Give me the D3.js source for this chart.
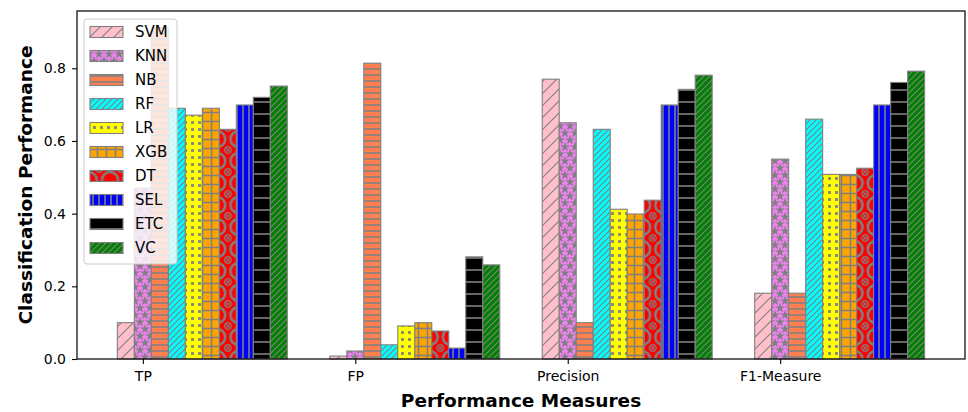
<!DOCTYPE html>
<html>
<head>
<meta charset="utf-8">
<script src="https://cdn.jsdelivr.net/npm/d3@7"></script>
<style>
  html, body { margin: 0; padding: 0; background: #ffffff; }
  svg { display: block; }
  text { font-family: "DejaVu Sans", sans-serif; fill: #000; }
</style>
</head>
<body>
<svg id="chart" width="968" height="412"></svg>
<script>
// Performance measures on the x axis
const measures = ["TP", "FP", "Precision", "F1-Measure"];

// One array per classifier, values in the order of `measures`
const SVM = [0.10, 0.008, 0.770, 0.181];
const KNN = [0.47, 0.022, 0.650, 0.550];
const NB  = [0.912, 0.814, 0.100, 0.181];
const RF  = [0.690, 0.039, 0.632, 0.660];
const LR  = [0.671, 0.091, 0.412, 0.508];
const XGB = [0.690, 0.100, 0.399, 0.508];
const DT  = [0.632, 0.077, 0.437, 0.525];
const SEL = [0.699, 0.030, 0.699, 0.699];
const ETC = [0.720, 0.281, 0.742, 0.761];
const VC  = [0.751, 0.259, 0.781, 0.792];

const modelNames = ["SVM", "KNN", "NB", "RF", "LR", "XGB", "DT", "SEL", "ETC", "VC"];
const modelValues = [SVM, KNN, NB, RF, LR, XGB, DT, SEL, ETC, VC];

const yTicks = [0.0, 0.2, 0.4, 0.6, 0.8];

// ---- layout ----
const svg = d3.select("#chart");
const plot = { left: 77, right: 965, top: 11, bottom: 359 };
const barW = 0.08;            // bar width in category units
const edge = "#808080";       // bar edge / hatch colour

// bar k sits at i + (k-1)*barW  (KNN centred on the tick)
const offsets = modelNames.map((_, k) => (k - 1) * barW);
const xLo = offsets[0] - barW / 2;
const xHi = measures.length - 1 + offsets[offsets.length - 1] + barW / 2;
const xPad = (xHi - xLo) * 0.05;
const x = d3.scaleLinear().domain([xLo - xPad, xHi + xPad]).range([plot.left, plot.right]);

const yMax = d3.max(modelValues.flat()) * 1.05;
const y = d3.scaleLinear().domain([0, yMax]).range([plot.bottom, plot.top]);

// ---- hatch patterns ----
const defs = svg.append("defs");
function pat(id, w, h, bg, draw, tf) {
  const p = defs.append("pattern").attr("id", id)
    .attr("patternUnits", "userSpaceOnUse")
    .attr("width", w).attr("height", h);
  if (tf) p.attr("patternTransform", tf);
  p.append("rect").attr("width", w).attr("height", h).attr("fill", bg);
  draw(p, w, h);
  return p;
}
function diag(p, s) {
  p.append("path")
    .attr("d", `M0,${s} L${s},0 M${-s/2},${s/2} L${s/2},${-s/2} M${s/2},${s*1.5} L${s*1.5},${s/2}`)
    .attr("stroke", edge).attr("stroke-width", 1.1).attr("fill", "none");
}
function hline(p, w, h) {
  p.append("line").attr("x1", 0).attr("x2", w).attr("y1", h / 2).attr("y2", h / 2)
    .attr("stroke", edge).attr("stroke-width", 1.6);
}
function vline(p, w, h) {
  p.append("line").attr("y1", 0).attr("y2", h).attr("x1", w / 2).attr("x2", w / 2)
    .attr("stroke", edge).attr("stroke-width", 1.6);
}
const star = d3.symbol().type(d3.symbolStar).size(30);

const patterns = {
  SVM: pat("h-svm", 12, 12, "#FFC0CB", (p) => diag(p, 12)),
  KNN: pat("h-knn", 10, 14, "#EE82EE", (p, w, h) => {
    [[0, 0], [w, 0], [0, h], [w, h], [w / 2, h / 2]].forEach(([cx, cy]) =>
      p.append("path").attr("d", star).attr("transform", `translate(${cx},${cy})`).attr("fill", edge));
  }),
  NB: pat("h-nb", 6, 6, "#FF7F50", hline),
  RF: pat("h-rf", 6, 6, "#00FFFF", (p) => diag(p, 6)),
  LR: pat("h-lr", 7, 7, "#FFFF00", (p, w, h) => {
    p.append("rect").attr("x", w / 2 - 1.4).attr("y", h / 2 - 1.4).attr("width", 2.8).attr("height", 2.8).attr("fill", edge);
  }),
  XGB: pat("h-xgb", 9, 9, "#FFA500", (p, w, h) => { hline(p, w, h); vline(p, w, h); }),
  DT: null,
  SEL: pat("h-sel", 6, 6, "#0000FF", vline),
  ETC: pat("h-etc", 12, 12, "#000000", hline),
  VC: pat("h-vc", 6, 6, "#008000", (p) => diag(p, 6))
};
// circle hatch for DT, one column of rings per bar slot
{
  const tw = (x(1) - x(0)) / 10, th = 22;
  const cx0 = x(offsets[6]);
  patterns.DT = pat("h-dt", tw, th, "#FF0000", (p, w, h) => {
    [[0, 0], [w, 0], [0, h], [w, h]].forEach(([cx, cy]) =>
      p.append("circle").attr("cx", cx).attr("cy", cy).attr("r", 8)
        .attr("fill", "none").attr("stroke", edge).attr("stroke-width", 2.6));
    p.append("circle").attr("cx", w / 2).attr("cy", h / 2).attr("r", 3.4)
      .attr("fill", "none").attr("stroke", edge).attr("stroke-width", 1.3);
    const d = 2.2;
    p.append("path")
      .attr("d", `M${w/2-d},${h/2-d}L${w/2+d},${h/2+d}M${w/2-d},${h/2+d}L${w/2+d},${h/2-d}`)
      .attr("stroke", edge).attr("stroke-width", 1.1);
  }, `translate(${cx0 - tw / 2},${plot.bottom})`);
}

// ---- bars ----
const bars = svg.append("g");
modelNames.forEach((name, k) => {
  bars.selectAll(null).data(modelValues[k]).enter().append("rect")
    .attr("x", (d, i) => x(i + offsets[k] - barW / 2))
    .attr("width", x(barW) - x(0))
    .attr("y", d => y(d))
    .attr("height", d => y(0) - y(d))
    .attr("fill", `url(#${patterns[name].attr("id")})`)
    .attr("stroke", edge).attr("stroke-width", 1.1);
});

// ---- axes ----
const yAxis = d3.axisLeft(y).tickValues(yTicks).tickFormat(d3.format(".1f")).tickSizeOuter(0).tickSize(5).tickPadding(6);
const gy = svg.append("g").attr("transform", `translate(${plot.left},0)`).call(yAxis);
const xAxis = d3.axisBottom(x).tickValues(d3.range(measures.length)).tickFormat(i => measures[i]).tickSizeOuter(0).tickSize(5).tickPadding(7);
const gx = svg.append("g").attr("transform", `translate(0,${plot.bottom})`).call(xAxis);
[gx, gy].forEach(g => {
  g.select(".domain").remove();
  g.selectAll(".tick line").attr("stroke", "#000").attr("stroke-width", 1.1);
  g.selectAll(".tick text").attr("font-family", "DejaVu Sans").attr("font-size", 14).attr("fill", "#000");
});

// frame
svg.append("rect")
  .attr("x", plot.left).attr("y", plot.top)
  .attr("width", plot.right - plot.left).attr("height", plot.bottom - plot.top)
  .attr("fill", "none").attr("stroke", "#000").attr("stroke-width", 1.2);

// axis titles
svg.append("text")
  .attr("x", (plot.left + plot.right) / 2).attr("y", 407)
  .attr("text-anchor", "middle").attr("font-size", 18.5).attr("font-weight", "bold")
  .text("Performance Measures");
svg.append("text")
  .attr("transform", `translate(25,${(plot.top + plot.bottom) / 2}) rotate(-90)`)
  .attr("text-anchor", "middle").attr("dominant-baseline", "central")
  .attr("font-size", 18.5).attr("font-weight", "bold")
  .text("Classification Performance");

// ---- legend ----
const lg = svg.append("g").attr("transform", "translate(84,19)");
lg.append("rect").attr("width", 93).attr("height", 245).attr("rx", 3)
  .attr("fill", "#fff").attr("fill-opacity", 0.8).attr("stroke", "#cccccc").attr("stroke-width", 1);
modelNames.forEach((name, k) => {
  const cy = 13 + k * 24;
  lg.append("rect").attr("x", 6).attr("y", cy - 5.5).attr("width", 33).attr("height", 11)
    .attr("fill", `url(#${patterns[name].attr("id")})`).attr("stroke", edge).attr("stroke-width", 1.1);
  lg.append("text").attr("x", 51).attr("y", cy).attr("dominant-baseline", "central")
    .attr("font-size", 15).text(name);
});
</script>
</body>
</html>
